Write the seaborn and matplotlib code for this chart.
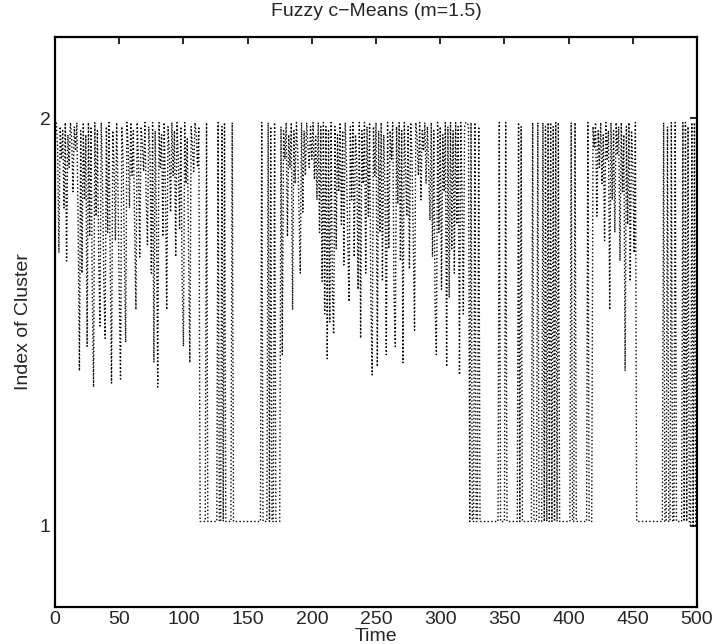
import numpy as np
import pandas as pd
import matplotlib
matplotlib.use("Agg")
import matplotlib.pyplot as plt
import seaborn as sns

# Weighted cluster index per time step, fuzzy c-means with m = 1.5
idx_001_112 = [
    1.99, 1.93, 1.67, 1.98, 1.90, 1.97, 1.78, 1.99, 1.65, 1.96,
    1.88, 1.99, 1.95, 1.82, 1.98, 1.92, 1.99, 1.74, 1.38, 1.97,
    1.62, 1.99, 1.80, 1.96, 1.44, 1.99, 1.71, 1.98, 1.58, 1.34,
    1.99, 1.76, 1.97, 1.66, 1.49, 1.99, 1.85, 1.60, 1.46, 1.98,
    1.72, 1.99, 1.64, 1.35, 1.97, 1.88, 1.70, 1.99, 1.83, 1.57,
    1.36, 1.98, 1.90, 1.68, 1.45, 1.99, 1.93, 1.78, 1.99, 1.86,
    1.97, 1.74, 1.53, 1.99, 1.90, 1.66, 1.98, 1.94, 1.87, 1.99,
    1.80, 1.69, 1.98, 1.91, 1.62, 1.99, 1.40, 1.97, 1.75, 1.34,
    1.99, 1.88, 1.96, 1.71, 1.99, 1.82, 1.53, 1.98, 1.92, 1.77,
    1.99, 1.86, 1.97, 1.66, 1.99, 1.90, 1.73, 1.98, 1.61, 1.44,
    1.99, 1.84, 1.95, 1.68, 1.40, 1.98, 1.93, 1.87, 1.99, 1.96,
    1.88, 1.98,
]

idx_113_175 = (
    [1.01] * 5 + [1.99, 1.01] + [1.01] * 7
    + [1.99, 1.01, 1.01, 1.98, 1.01, 1.99, 1.01] + [1.01] * 4
    + [1.99, 1.01] + [1.01] * 21
    + [1.99, 1.01] + [1.01] * 3
    + [1.99, 1.01, 1.98, 1.01, 1.01, 1.99, 1.01, 1.01, 1.01, 1.01]
)

idx_176_322 = [
    1.98, 1.42, 1.97, 1.90, 1.99, 1.71, 1.96, 1.88, 1.99, 1.53,
    1.97, 1.84, 1.99, 1.92, 1.78, 1.62, 1.99, 1.77, 1.97, 1.86,
    1.99, 1.93, 1.88, 1.98, 1.90, 1.99, 1.85, 1.96, 1.80, 1.99,
    1.72, 1.98, 1.60, 1.99, 1.52, 1.98, 1.41, 1.97, 1.50, 1.99,
    1.58, 1.47, 1.98, 1.68, 1.96, 1.82, 1.99, 1.74, 1.97, 1.64,
    1.99, 1.88, 1.70, 1.55, 1.98, 1.80, 1.99, 1.66, 1.96, 1.90,
    1.58, 1.99, 1.46, 1.97, 1.84, 1.99, 1.62, 1.98, 1.76, 1.99,
    1.55, 1.37, 1.98, 1.86, 1.99, 1.39, 1.97, 1.72, 1.99, 1.60,
    1.96, 1.83, 1.42, 1.99, 1.68, 1.97, 1.90, 1.99, 1.57, 1.44,
    1.98, 1.79, 1.99, 1.65, 1.97, 1.40, 1.99, 1.87, 1.76, 1.98,
    1.63, 1.99, 1.91, 1.70, 1.48, 1.99, 1.95, 1.86, 1.99, 1.80,
    1.97, 1.92, 1.99, 1.84, 1.98, 1.88, 1.75, 1.99, 1.66, 1.97,
    1.54, 1.42, 1.99, 1.72, 1.98, 1.58, 1.96, 1.82, 1.99, 1.39,
    1.98, 1.56, 1.99, 1.68, 1.97, 1.62, 1.99, 1.74, 1.98, 1.37,
    1.99, 1.80, 1.52, 1.98, 1.99, 1.99, 1.98,
]

idx_323_418 = (
    [1.01, 1.99, 1.01, 1.01, 1.99, 1.01, 1.01, 1.98, 1.01] + [1.01] * 14
    + [1.99, 1.01] + [1.01] * 3 + [1.99, 1.01] + [1.01] * 8
    + [1.99, 1.01, 1.98, 1.01] + [1.01] * 7
    + [1.99, 1.01, 1.01, 1.01, 1.99, 1.01, 1.01, 1.01,
       1.99, 1.01, 1.98, 1.01, 1.99, 1.01, 1.99, 1.01,
       1.98, 1.01, 1.99, 1.01, 1.99, 1.01] + [1.01] * 8
    + [1.99, 1.01, 1.01, 1.99, 1.01] + [1.01] * 8
    + [1.99, 1.01, 1.01, 1.01]
)

idx_419_452 = [
    1.98, 1.93, 1.99, 1.76, 1.97, 1.88, 1.99, 1.84, 1.96, 1.70,
    1.99, 1.90, 1.97, 1.53, 1.99, 1.80, 1.97, 1.72, 1.99, 1.91,
    1.98, 1.65, 1.99, 1.82, 1.96, 1.38, 1.98, 1.74, 1.99, 1.60,
    1.97, 1.88, 1.67, 1.99,
]

idx_453_500 = (
    [1.01] * 21
    + [1.99, 1.01, 1.01, 1.98, 1.01, 1.01, 1.99, 1.01, 1.01, 1.99, 1.01]
    + [1.01] * 4
    + [1.99, 1.01, 1.99, 1.01, 1.98, 1.01, 1.00, 1.99, 1.00, 1.99, 1.00, 1.00]
)

cluster_index = (idx_001_112 + idx_113_175 + idx_176_322
                 + idx_323_418 + idx_419_452 + idx_453_500)
time = np.arange(1, len(cluster_index) + 1)

x_ticks = [0, 50, 100, 150, 200, 250, 300, 350, 400, 450, 500]
y_ticks = [1, 2]

df = pd.DataFrame({"Time": time, "Index": cluster_index})

sns.set_style("white")
plt.rcParams["font.family"] = ["Liberation Sans", "DejaVu Sans"]
plt.rcParams["font.size"] = 14

fig = plt.figure(figsize=(7.25, 6.44), dpi=100)
ax = fig.add_axes([0.0759, 0.0575, 0.8855, 0.885])

sns.lineplot(data=df, x="Time", y="Index", ax=ax, color="black",
             linestyle=":", linewidth=1.0, estimator=None, sort=False)

ax.set_xlim(0, 500)
ax.set_ylim(0.8, 2.2)
ax.set_xticks(x_ticks)
ax.set_xticklabels([str(v) for v in x_ticks])
ax.set_yticks(y_ticks)
ax.set_yticklabels([str(v) for v in y_ticks])

ax.tick_params(direction="in", length=5, width=1.2, top=True, right=True,
               labelsize=14, pad=3, color="black")
for s in ax.spines.values():
    s.set_visible(True)
    s.set_color("black")
    s.set_linewidth(1.6)

ax.set_title("Fuzzy c\u2212Means (m=1.5)", fontsize=14, pad=15)
ax.set_xlabel("Time", fontsize=14, labelpad=0)
ax.set_ylabel("Index of Cluster", fontsize=14, labelpad=6)

fig.savefig("out.png", dpi=100)
